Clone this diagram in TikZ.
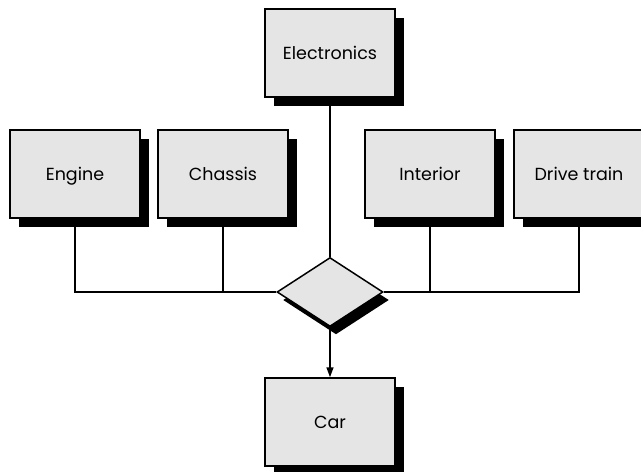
\documentclass[tikz,border=0pt]{standalone}
\usepackage{fontspec}
\setmainfont{Poppins}
\usetikzlibrary{shapes.geometric, shadows, arrows.meta}

\begin{document}
\begin{tikzpicture}[
        x=1pt, y=-1pt,
        part/.style={draw, line width=1.5pt, fill=black!10, minimum width=130pt,
            minimum height=88pt, font=\fontsize{17.5}{20}\selectfont,
            text height=2.5ex, text depth=0pt,
            drop shadow={shadow xshift=9pt, shadow yshift=-9pt, fill=black, opacity=1}},
        hub/.style={diamond, draw, line width=1.5pt, fill=black!10, inner sep=0pt,
            minimum width=106pt, minimum height=69pt,
            drop shadow={shadow xshift=6pt, shadow yshift=-8pt, fill=black, opacity=1}},
        link/.style={line width=1.5pt},
        feed/.style={line width=1.5pt, -{Triangle[length=10pt, width=7pt]}}
    ]
        \useasboundingbox (0, 0) rectangle (641, 472);

        % Parts
        \node[part] (elec) at (330, 53) {Electronics};
        \node[part] (engine) at (75, 174) {Engine};
        \node[part] (chassis) at (223, 174) {Chassis};
        \node[part] (interior) at (430, 174) {Interior};
        \node[part] (drive) at (579, 174) {Drive train};
        \node[part] (car) at (330, 422) {Car};

        % Assembly
        \node[hub] (join) at (330, 292) {};
        \draw[link] (engine.south) |- (join.west);
        \draw[link] (chassis.south) -- (chassis.south |- join.west);
        \draw[link] (drive.south) |- (join.east);
        \draw[link] (interior.south) -- (interior.south |- join.east);
        \draw[link] (elec.south) -- (join.north);
        \draw[feed] (join.south) -- (car.north);
    \end{tikzpicture}
\end{document}
